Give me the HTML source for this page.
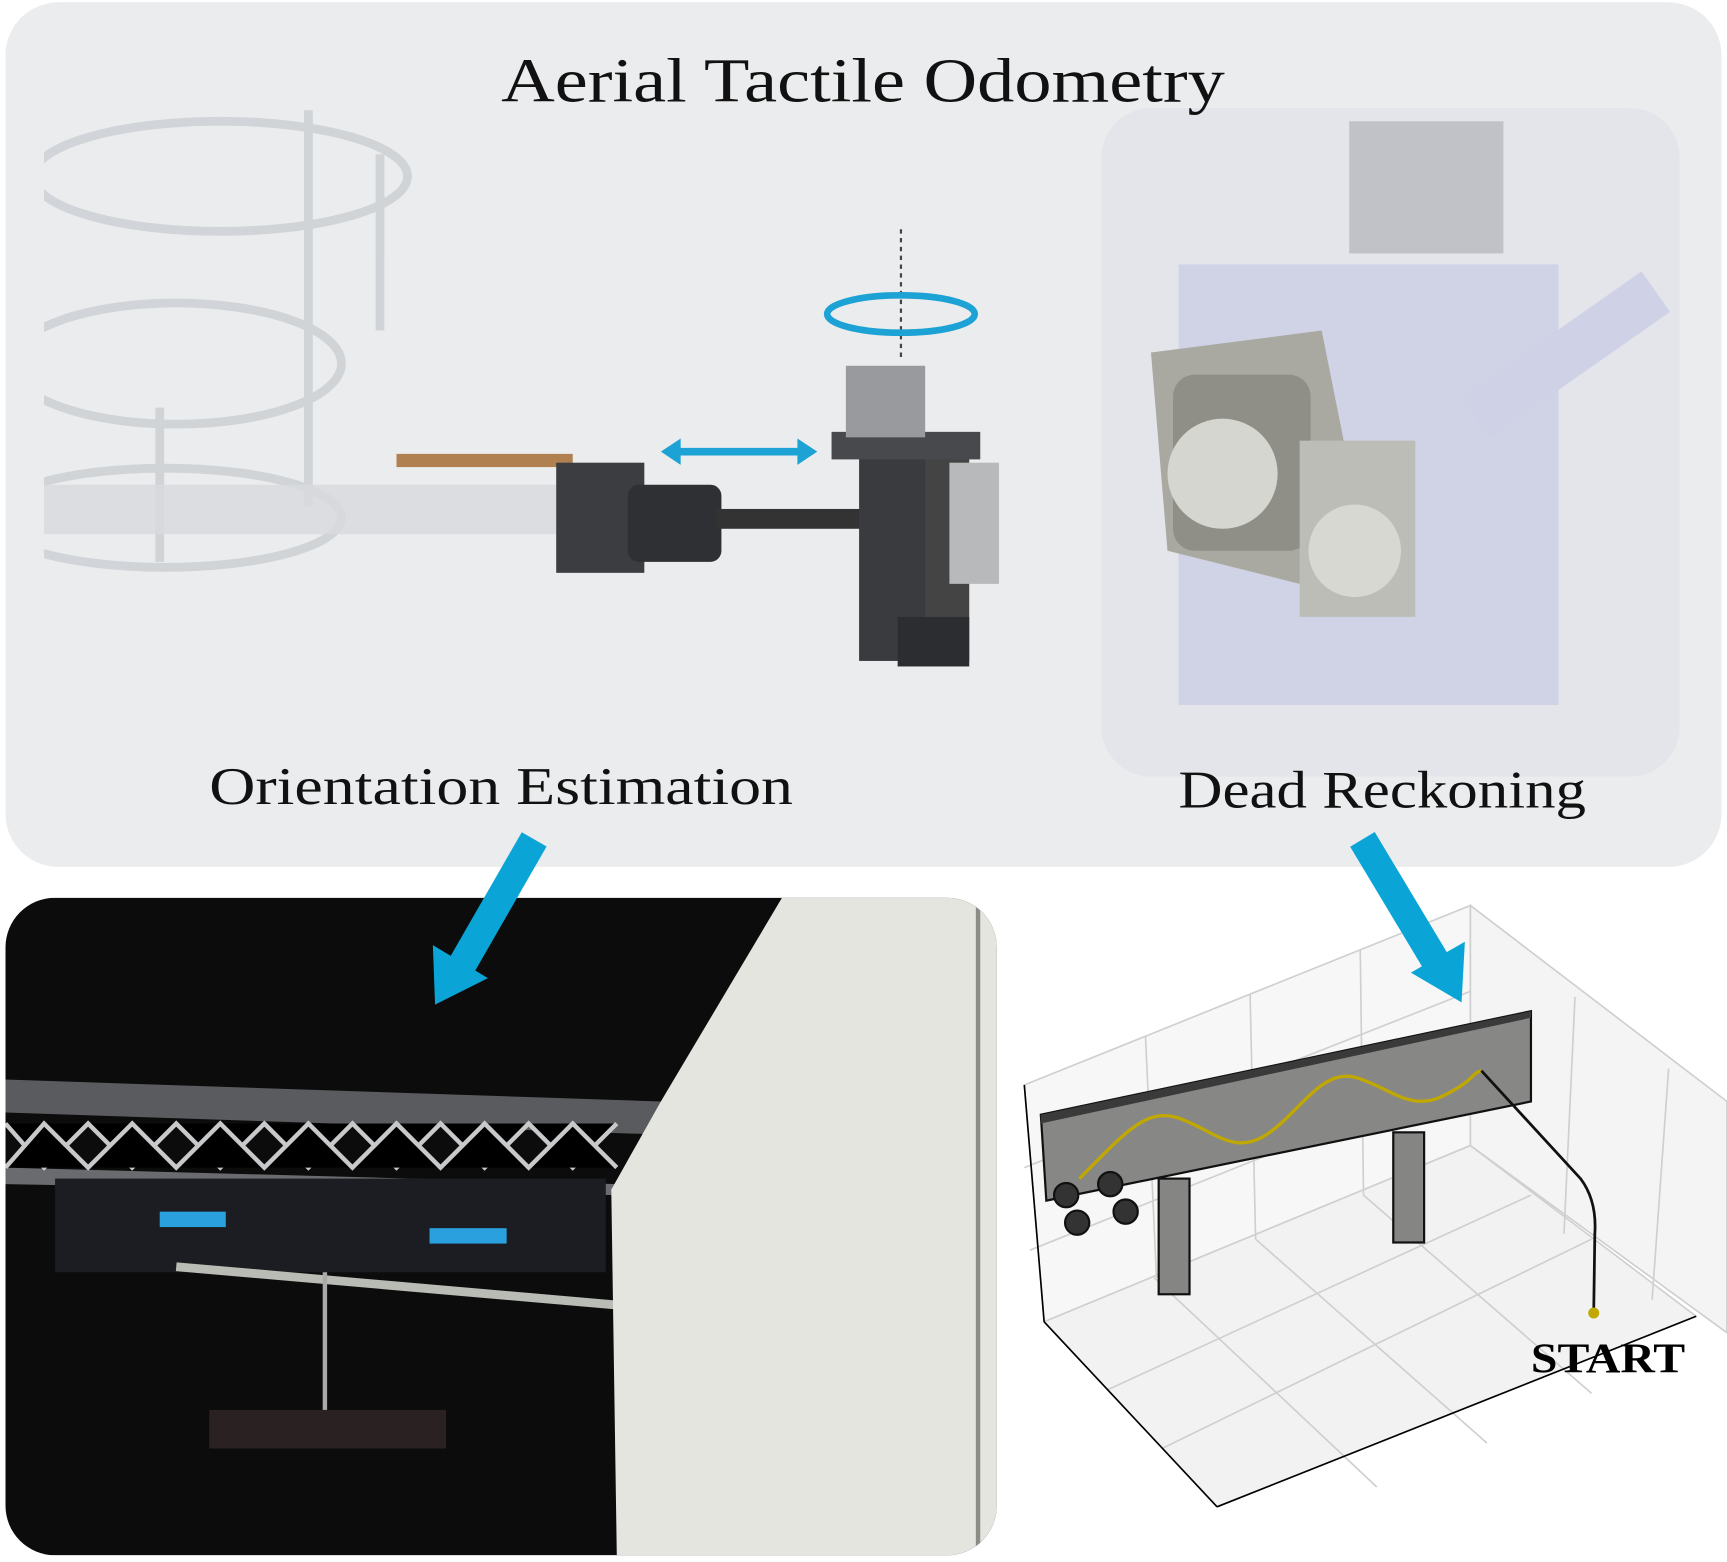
<!DOCTYPE html>
<html><head><meta charset="utf-8"><style>html,body{margin:0;padding:0;background:#fff}svg{display:block}</style></head><body>
<svg width="1727" height="1562" viewBox="0 0 1568 1418" xmlns="http://www.w3.org/2000/svg" font-family="'Liberation Serif', serif">
<defs><clipPath id="ph"><rect x="5" y="815" width="900" height="597" rx="45"/></clipPath>
<clipPath id="dr"><rect x="40" y="98" width="480" height="430"/></clipPath></defs>
<rect x="5" y="2" width="1558" height="785" rx="48" fill="#ebeced"/>
<rect x="1000" y="98" width="525" height="607" rx="45" fill="#e4e5ea"/>
<text x="455" y="92" font-size="57" textLength="657" lengthAdjust="spacingAndGlyphs" fill="#111">Aerial Tactile Odometry</text>
<!-- left drone rotor guards -->
<g clip-path="url(#dr)">
<g fill="none" stroke="#cdd0d3" stroke-width="8" opacity="0.85">
<ellipse cx="200" cy="160" rx="170" ry="50"/><ellipse cx="160" cy="330" rx="150" ry="55"/>
<ellipse cx="150" cy="470" rx="160" ry="45"/>
<line x1="280" y1="100" x2="280" y2="460"/><line x1="345" y1="140" x2="345" y2="300"/><line x1="145" y1="370" x2="145" y2="510"/></g>
<rect x="40" y="440" width="480" height="45" fill="#d8dadd" opacity="0.8"/>
</g>
<rect x="360" y="412" width="160" height="12" fill="#b08050"/>
<!-- arm assembly -->
<rect x="505" y="420" width="80" height="100" fill="#3c3d40"/>
<rect x="570" y="440" width="85" height="70" fill="#2f3033" rx="10"/>
<rect x="650" y="462" width="135" height="18" fill="#333"/>
<rect x="780" y="405" width="65" height="195" fill="#3a3b3e"/>
<rect x="840" y="400" width="40" height="200" fill="#444"/>
<rect x="815" y="560" width="65" height="45" fill="#2c2d30"/>
<rect x="755" y="392" width="135" height="25" fill="#48494c"/>
<rect x="768" y="332" width="72" height="65" fill="#999a9d"/>
<rect x="862" y="420" width="45" height="110" fill="#b8b9bb"/>
<line x1="818" y1="208" x2="818" y2="328" stroke="#444" stroke-width="2" stroke-dasharray="4,4"/>
<ellipse cx="818" cy="285" rx="67" ry="17" fill="none" stroke="#1ca2d4" stroke-width="6"/>
<line x1="612" y1="410" x2="728" y2="410" stroke="#1ca2d4" stroke-width="7"/>
<polygon points="600,410 618,398 618,422" fill="#1ca2d4"/><polygon points="742,410 724,398 724,422" fill="#1ca2d4"/>
<!-- trackball sensor -->
<rect x="1070" y="240" width="345" height="400" fill="#c8cbe4" opacity="0.7"/>
<rect x="1225" y="110" width="140" height="120" fill="#b8b9be" opacity="0.8"/>
<rect x="1320" y="300" width="200" height="45" fill="#cfd2e6" transform="rotate(-35 1420 320)"/>
<polygon points="1045,320 1200,300 1220,400 1180,530 1060,500" fill="#a9a9a2"/>
<rect x="1065" y="340" width="125" height="160" fill="#8f8f88" rx="20"/>
<circle cx="1110" cy="430" r="50" fill="#d6d6d0"/>
<rect x="1180" y="400" width="105" height="160" fill="#bdbdb8"/>
<circle cx="1230" cy="500" r="42" fill="#d8d8d2"/>
<text x="190" y="730" font-size="48" textLength="530" lengthAdjust="spacingAndGlyphs" fill="#111">Orientation Estimation</text>
<text x="1070" y="733" font-size="48" textLength="370" lengthAdjust="spacingAndGlyphs" fill="#111">Dead Reckoning</text>
<!-- photo -->
<g clip-path="url(#ph)">
<rect x="5" y="815" width="900" height="597" fill="#0c0c0d"/>
<polygon points="5,980 600,1000 600,1030 5,1010" fill="#5a5b5e"/>
<polygon points="5,1060 560,1075 560,1085 5,1075" fill="#6a6b6e"/>
<g stroke="#c8c9cb" stroke-width="4">
<path d="M5,1020 L40,1060 L80,1020 L120,1060 L160,1020 L200,1060 L240,1020 L280,1060 L320,1020 L360,1060 L400,1020 L440,1060 L480,1020 L520,1060 L560,1020"/>
<path d="M5,1060 L40,1020 L80,1060 L120,1020 L160,1060 L200,1020 L240,1060 L280,1020 L320,1060 L360,1020 L400,1060 L440,1020 L480,1060 L520,1020 L560,1060"/></g>
<rect x="50" y="1070" width="500" height="85" fill="#1b1d22"/>
<rect x="145" y="1100" width="60" height="14" fill="#2aa0de"/><rect x="390" y="1115" width="70" height="14" fill="#2aa0de"/>
<line x1="160" y1="1150" x2="620" y2="1190" stroke="#b9bbb5" stroke-width="8"/>
<line x1="295" y1="1155" x2="295" y2="1285" stroke="#aaa" stroke-width="4"/>
<rect x="190" y="1280" width="215" height="35" fill="#2a2222"/>
<polygon points="710,815 905,815 905,1412 560,1412 555,1080 600,1000" fill="#e4e5df"/>
<line x1="888" y1="815" x2="888" y2="1412" stroke="#8a8c86" stroke-width="4"/>
</g>
<!-- 3D plot -->
<g stroke="#cfcfcf" stroke-width="1.5" fill="none">
<polygon points="930,985 1335,822 1335,1040 948,1200" fill="#f7f7f7"/>
<polygon points="1335,822 1568,1000 1568,1210 1335,1040" fill="#f4f4f4"/>
<polygon points="948,1200 1335,1040 1540,1195 1105,1368" fill="#f2f2f2"/>
<line x1="1040" y1="940" x2="1050" y2="1160"/><line x1="1135" y1="902" x2="1140" y2="1125"/><line x1="1235" y1="862" x2="1238" y2="1085"/>
<line x1="930" y1="1060" x2="1335" y2="900"/><line x1="935" y1="1135" x2="1335" y2="975"/>
<line x1="1005" y1="1262" x2="1390" y2="1085"/><line x1="1055" y1="1315" x2="1445" y2="1125"/>
<line x1="1048" y1="1160" x2="1250" y2="1350"/><line x1="1140" y1="1125" x2="1350" y2="1310"/><line x1="1238" y1="1085" x2="1445" y2="1265"/>
<line x1="1430" y1="905" x2="1420" y2="1120"/><line x1="1515" y1="970" x2="1500" y2="1180"/>
</g>
<g stroke="#000" stroke-width="1.5" fill="none"><line x1="930" y1="985" x2="948" y2="1200"/><line x1="948" y1="1200" x2="1105" y2="1368"/><line x1="1105" y1="1368" x2="1540" y2="1195"/></g>
<polygon points="945,1012 1390,918 1390,1000 950,1090" fill="#878886" stroke="#111" stroke-width="2"/>
<polygon points="945,1012 1390,918 1390,924 945,1020" fill="#3a3a3a"/>
<rect x="1052" y="1070" width="28" height="105" fill="#858683" stroke="#111" stroke-width="2"/>
<rect x="1265" y="1028" width="28" height="100" fill="#858683" stroke="#111" stroke-width="2"/>
<path d="M980,1070 C1020,1030 1040,1005 1070,1015 S1120,1050 1150,1030 S1200,970 1230,978 S1280,1010 1310,995 S1335,975 1345,972" fill="none" stroke="#c0a800" stroke-width="3"/>
<path d="M1345,972 L1435,1070 Q1450,1090 1448,1120 L1447,1190" fill="none" stroke="#111" stroke-width="2.5"/>
<circle cx="1447" cy="1192" r="5" fill="#c0a800"/>
<g fill="#333" stroke="#111" stroke-width="2"><circle cx="968" cy="1085" r="11"/><circle cx="1008" cy="1075" r="11"/><circle cx="978" cy="1110" r="11"/><circle cx="1022" cy="1100" r="11"/></g>
<text x="1390" y="1246" font-size="38" font-weight="bold" textLength="140" lengthAdjust="spacingAndGlyphs" fill="#000">START</text>
<!-- blue arrows -->
<line x1="485" y1="762" x2="420" y2="875" stroke="#0aa5d6" stroke-width="26"/>
<polygon points="395,912 393,858 443,888" fill="#0aa5d6"/>
<line x1="1237" y1="762" x2="1303" y2="872" stroke="#0aa5d6" stroke-width="26"/>
<polygon points="1327,910 1281,883 1330,855" fill="#0aa5d6"/>
</svg>
</body></html>
